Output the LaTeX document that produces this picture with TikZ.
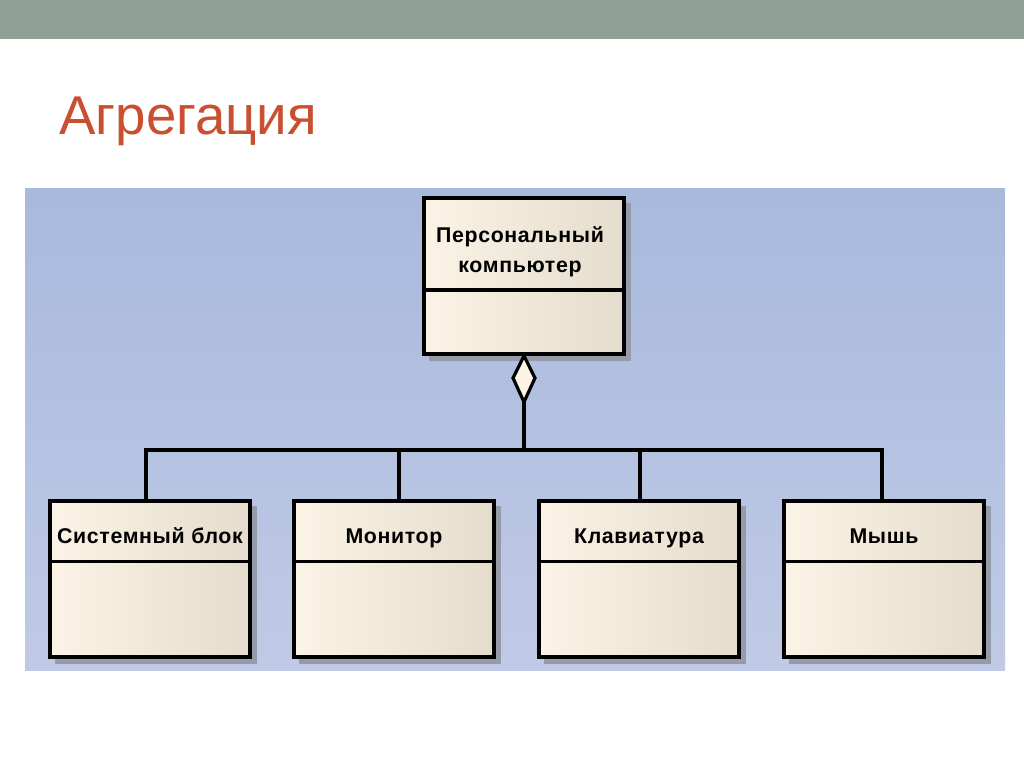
\documentclass[tikz,border=0pt]{standalone}
\usepackage{fontspec}
\setmainfont{Liberation Sans}
\definecolor{barcol}{RGB}{145,160,150}
\definecolor{titlecol}{RGB}{200,80,48}
\definecolor{paneltop}{RGB}{168,185,220}
\definecolor{panelbot}{RGB}{192,202,230}
\definecolor{boxleft}{RGB}{251,243,229}
\definecolor{boxright}{RGB}{228,220,204}
\definecolor{shadowcol}{RGB}{150,155,170}
\tikzset{
  classbox/.style={draw=black, line width=2.8pt, left color=boxleft, right color=boxright, minimum width=200*0.75pt, minimum height=156*0.75pt, inner sep=0pt},
  conn/.style={line width=2.5pt, line cap=rect},
  lbl/.style={font=\bfseries\fontsize{16pt}{22.5pt}\selectfont\addfontfeature{LetterSpace=3}, align=center}
}
\begin{document}
\begin{tikzpicture}[x=0.75pt,y=-0.75pt]
\useasboundingbox (0,0) rectangle (1024,767);
\fill[white] (0,0) rectangle (1024,767);
\fill[barcol] (0,0) rectangle (1024,39);
\node[anchor=base west, text=titlecol, font=\fontsize{41pt}{44pt}\selectfont, inner sep=0pt] (title) at (59,134) {Агрегация};
% panel
\shade[top color=paneltop, bottom color=panelbot] (25,188) rectangle (1005,670);
% shadows
\fill[shadowcol] (429,203) rectangle (631,361);
\foreach \x in {55,299,544,789} \fill[shadowcol] (\x,506) rectangle (\x+202,664);
% top box
\node[classbox] (pc) at (524,276) {};
\draw[line width=2.4pt] (423,290) -- (625,290);
\node[lbl] (pct) at (520,252) {Персональный\\компьютер};
% bottom boxes
\node[classbox] (b1) at (150,579) {};
\node[classbox] (b2) at (394,579) {};
\node[classbox] (b3) at (639,579) {};
\node[classbox] (b4) at (884,579) {};
\foreach \b in {b1,b2,b3,b4} \draw[line width=2.4pt] ([yshift=-62*0.75pt]\b.north west) -- ([yshift=-62*0.75pt]\b.north east);
\node[lbl, anchor=base] (t1) at (150,543) {Системный блок};
\node[lbl, anchor=base] (t2) at (394,543) {Монитор};
\node[lbl, anchor=base] (t3) at (639,543) {Клавиатура};
\node[lbl, anchor=base] (t4) at (884,543) {Мышь};
% diamond
\coordinate (dtop) at (pc.south);
\coordinate (dbot) at (524,402);
\coordinate (junc) at (524,450);
\draw[line width=2.4pt, fill=boxleft, line join=miter] (dtop) -- (535,378) -- (dbot) -- (513,378) -- cycle;
\draw[conn] (dbot) -- (junc);
\coordinate (h1) at (146,450);
\coordinate (h4) at (882,450);
\draw[conn] (h1) -- (h4);
\draw[conn] (h1) -- (b1.north -| h1);
\draw[conn] (399,450) -- (b2.north -| 399,0);
\draw[conn] (640,450) -- (b3.north -| 640,0);
\draw[conn] (h4) -- (b4.north -| h4);
\end{tikzpicture}
\end{document}
